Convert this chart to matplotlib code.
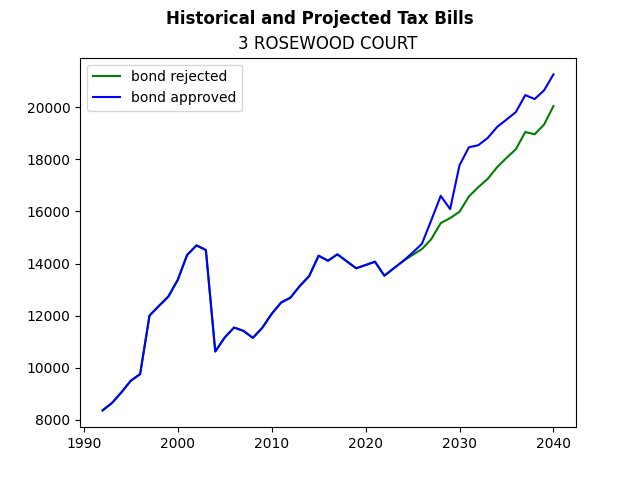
import numpy as np
from matplotlib import pyplot as plt

years = np.arange(1992, 2041)

history = [8357, 8640, 9047, 9495, 9752, 12000, 12371, 12729, 13368, 14327,
           14698, 14518, 10620, 11156, 11540, 11412, 11144, 11528, 12064, 12498,
           12689, 13138, 13521, 14300, 14108, 14353, 14085, 13817, 13943, 14070,
           13533, 13817, 14097]

rejected = [14327, 14557, 14940, 15554, 15746, 15988, 16577, 16934, 17253, 17701,
            18058, 18392, 19054, 18965, 19338, 20051]

approved = [14415, 14760, 15669, 16600, 16091, 17778, 18468, 18545, 18825, 19246,
            19530, 19821, 20473, 20320, 20654, 21267]

fig, ax = plt.subplots(figsize=(6.4, 4.8), dpi=100)

ax.plot(years, history + rejected, color='green', label='bond rejected')
ax.plot(years, history + approved, color='blue', label='bond approved')

fig.suptitle('Historical and Projected Tax Bills', fontweight='bold')
ax.set_title('3 ROSEWOOD COURT')
ax.legend(loc='upper left')

fig.savefig('out.png')
